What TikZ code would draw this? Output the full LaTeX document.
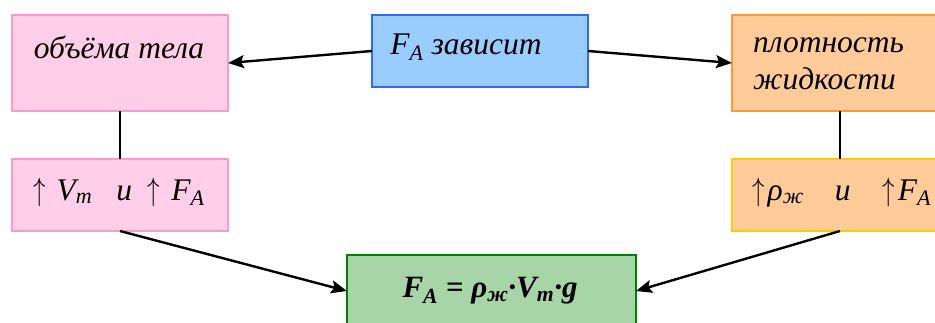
\documentclass[tikz,border=0pt]{standalone}
\usepackage{fontspec}
\usepackage{graphicx}
\setmainfont{Liberation Serif}
\usetikzlibrary{arrows.meta}
\definecolor{pinkfill}{RGB}{255,206,232}
\definecolor{pinkdraw}{RGB}{255,153,204}
\definecolor{bluefill}{RGB}{153,204,255}
\definecolor{bluedraw}{RGB}{51,102,255}
\definecolor{orangefill}{RGB}{255,204,153}
\definecolor{orangedraw}{RGB}{255,153,51}
\definecolor{golddraw}{RGB}{255,204,0}
\definecolor{greenfill}{RGB}{168,213,168}
\definecolor{greendraw}{RGB}{0,128,0}
\newcommand{\upar}{\scalebox{1.0}[1.3]{$\uparrow$}}
\begin{document}
\begin{tikzpicture}[x=1pt,y=-1pt,
  box/.style={draw, line width=1.4pt, inner sep=0pt, outer sep=0pt, minimum width=216pt},
  txt/.style={inner sep=0pt, font=\fontsize{31.5}{37}\selectfont\itshape},
  conn/.style={line width=2pt},
  arr/.style={line width=2.4pt, -{Stealth[length=16pt,width=13pt,inset=3pt]}}]
\useasboundingbox (0,0) rectangle (935,322);
\clip (0,0) rectangle (935,322);
% boxes
\node[box, fill=pinkfill, draw=pinkdraw, minimum height=96pt] (vol) at (120,63) {};
\node[box, fill=bluefill, draw=bluedraw, minimum height=72pt] (dep) at (480,51) {};
\node[box, fill=orangefill, draw=orangedraw, minimum height=96pt] (dens) at (840,63) {};
\node[box, fill=pinkfill, draw=pinkdraw, minimum height=72pt] (volup) at (120,195) {};
\node[box, fill=orangefill, draw=golddraw, minimum height=72pt] (densup) at (840,195) {};
\node[box, fill=greenfill, draw=greendraw, minimum width=289pt, minimum height=72pt] (form) at (491.5,291) {};
% texts
\node[txt] (tvol) at (119,47) {объёма тела};
\node[txt, anchor=base west] (tvolup) at (33,200) {\upar\hspace{11pt}V\textsubscript{m}\hspace{24pt}и\hspace{15pt}\upar\hspace{12pt}F\textsubscript{A}};
\node[txt] (tdep) at (466,47) {F\textsubscript{A} зависит};
\node[txt, anchor=west, align=left] (tdens) at (753,64) {плотность\\жидкости};
\node[txt, anchor=base west] (tdensup) at (752,200) {\upar\hspace{3pt}ρ\textsubscript{ж}\hspace{31pt}и\hspace{32pt}\upar\hspace{3pt}F\textsubscript{A}};
\node[txt, font=\fontsize{31}{34}\selectfont\bfseries\itshape] (tform) at (490,291) {F\textsubscript{A} = ρ\textsubscript{ж}·V\textsubscript{m}·g};
% connectors
\draw[conn] (vol.south) -- (volup.north);
\draw[conn] (dens.south) -- (densup.north);
\draw[arr] (dep.west) -- (vol.east);
\draw[arr] (dep.east) -- (dens.west);
\draw[arr] (volup.south) -- (form.west);
\draw[arr] (densup.south) -- (form.east);
\end{tikzpicture}
\end{document}
